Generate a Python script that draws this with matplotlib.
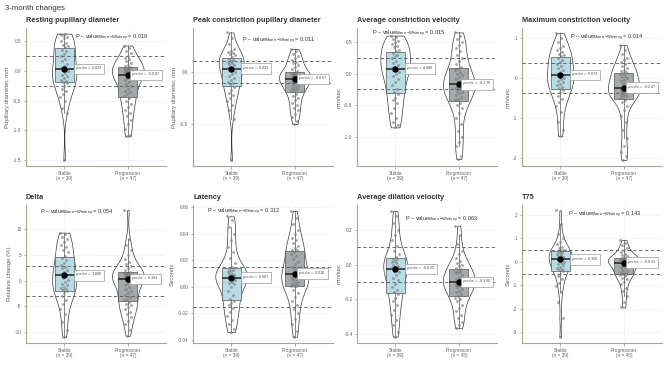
import numpy as np
import matplotlib
matplotlib.use("Agg")
import matplotlib.pyplot as plt

plt.rcParams['font.family'] = ['Liberation Sans', 'DejaVu Sans']
plt.rcParams['mathtext.fontset'] = 'custom'
plt.rcParams['mathtext.rm'] = 'Liberation Sans'
plt.rcParams['mathtext.it'] = 'Liberation Sans:italic'
plt.rcParams['mathtext.bf'] = 'Liberation Sans:bold'

# ---------------- data ----------------
suptitle = "3-month changes"
titles = ["Resting pupillary diameter", "Peak constriction pupillary diameter",
          "Average constriction velocity", "Maximum constriction velocity",
          "Delta", "Latency", "Average dilation velocity", "T75"]
ylabels = ["Pupillary diameter, mm", "Pupillary diameter, mm", "mm/sec", "mm/sec",
           "Relative change (%)", "Seconds", "mm/sec", "Seconds"]
groups = ["Stable", "Progression"]
p_values = ["0.018", "0.011", "0.015", "0.014", "0.054", "0.312", "0.063", "0.143"]
thresholds = [0.25, 0.11, 0.24, 0.38, 2.9, 0.015, 0.10, 0.5]

stable_resting = [0.63, 0.62, 0.60, 0.57, 0.55, 0.50, 0.47, 0.44, 0.42, 0.40,
                  0.36, 0.33, 0.28, 0.25, 0.20, 0.17, 0.12, 0.08, 0.05, 0.033,
                  0.02, 0.0, -0.03, -0.06, -0.09, -0.12, -0.15, -0.17, -0.18,
                  -0.20, -0.25, -0.30, -0.33, -0.38, -0.44, -0.50, -0.62, -0.70, -1.50]
prog_resting = [0.43, 0.38, 0.33, 0.30, 0.26, 0.22, 0.20, 0.17, 0.14, 0.11, 0.09, 0.07,
                0.05, 0.04, 0.03, 0.02, 0.01, 0.0, -0.01, -0.02, -0.03, -0.05, -0.06, -0.067,
                -0.09, -0.12, -0.15, -0.18, -0.22, -0.26, -0.30, -0.33, -0.36, -0.39, -0.42,
                -0.46, -0.50, -0.55, -0.60, -0.65, -0.70, -0.75, -0.82, -0.90, -0.98, -1.08, -1.10]

stable_peak = [0.38, 0.33, 0.27, 0.22, 0.20, 0.19, 0.18, 0.17, 0.16, 0.14,
               0.125, 0.12, 0.11, 0.10, 0.09, 0.08, 0.07, 0.05, 0.04, 0.033,
               0.02, 0.0, -0.02, -0.04, -0.06, -0.08, -0.10, -0.11, -0.12,
               -0.14, -0.17, -0.20, -0.22, -0.25, -0.28, -0.32, -0.37, -0.45, -0.85]
prog_peak = [0.22, 0.20, 0.17, 0.15, 0.13, 0.12, 0.10, 0.09, 0.07, 0.05, 0.03, 0.01,
             -0.005, -0.01, -0.015, -0.02, -0.025, -0.03, -0.04, -0.045, -0.05, -0.055, -0.06,
             -0.067, -0.08, -0.09, -0.10, -0.11, -0.12, -0.13, -0.14, -0.15, -0.16, -0.17, -0.18,
             -0.21, -0.23, -0.25, -0.27, -0.30, -0.32, -0.35, -0.37, -0.40, -0.43, -0.47, -0.50]

stable_acv = [0.60, 0.58, 0.55, 0.52, 0.50, 0.47, 0.44, 0.42, 0.38, 0.36,
              0.33, 0.30, 0.27, 0.24, 0.20, 0.17, 0.14, 0.11, 0.09, 0.08,
              0.06, 0.03, 0.0, -0.04, -0.08, -0.13, -0.18, -0.24, -0.29,
              -0.33, -0.38, -0.42, -0.47, -0.55, -0.62, -0.70, -0.76, -0.82, -0.85]
prog_acv = [0.65, 0.60, 0.55, 0.50, 0.45, 0.40, 0.35, 0.30, 0.25, 0.20, 0.15, 0.10,
            0.07, 0.05, 0.02, 0.0, -0.03, -0.06, -0.09, -0.11, -0.13, -0.15, -0.16,
            -0.17, -0.19, -0.21, -0.23, -0.25, -0.27, -0.29, -0.31, -0.34, -0.37, -0.40, -0.42,
            -0.46, -0.50, -0.55, -0.62, -0.70, -0.80, -0.90, -1.00, -1.08, -1.15, -1.30, -1.35]

stable_mcv = [1.12, 1.00, 0.90, 0.80, 0.75, 0.70, 0.65, 0.60, 0.57, 0.54,
              0.50, 0.45, 0.40, 0.35, 0.30, 0.25, 0.20, 0.15, 0.10, 0.073,
              0.03, 0.0, -0.03, -0.07, -0.10, -0.14, -0.18, -0.22, -0.26,
              -0.30, -0.36, -0.45, -0.52, -0.60, -0.70, -0.85, -1.10, -1.30, -1.45]
prog_mcv = [0.82, 0.70, 0.60, 0.50, 0.45, 0.40, 0.35, 0.30, 0.25, 0.20, 0.17, 0.15,
            0.12, 0.09, 0.06, 0.03, 0.0, -0.04, -0.08, -0.12, -0.16, -0.20, -0.23,
            -0.247, -0.27, -0.29, -0.31, -0.33, -0.35, -0.37, -0.39, -0.42, -0.45, -0.48, -0.50,
            -0.54, -0.60, -0.70, -0.80, -0.95, -1.10, -1.30, -1.50, -1.70, -1.85, -1.95, -2.05]

stable_delta = [9.3, 9.0, 8.5, 8.0, 7.5, 7.0, 6.5, 6.0, 5.5, 4.8,
                4.4, 4.0, 3.5, 3.0, 2.7, 2.4, 2.0, 1.6, 1.2, 1.0,
                0.6, 0.2, -0.2, -0.6, -0.9, -1.2, -1.5, -1.7, -1.9,
                -2.1, -2.5, -3.0, -3.8, -4.5, -5.5, -6.5, -8.0, -9.5, -10.9]
prog_delta = [13.7, 8.0, 7.0, 6.0, 5.0, 4.2, 3.6, 3.2, 2.8, 2.4, 2.0, 1.7,
              1.5, 1.4, 1.3, 1.2, 1.1, 1.0, 0.9, 0.8, 0.7, 0.55, 0.4,
              0.303, 0.0, -0.4, -0.8, -1.2, -1.6, -2.0, -2.4, -2.8, -3.2, -3.5, -3.8,
              -4.2, -4.5, -4.8, -5.2, -5.6, -6.0, -6.5, -7.0, -7.8, -8.5, -9.5, -10.7]

stable_latency = [0.053, 0.050, 0.045, 0.040, 0.035, 0.030, 0.026, 0.022, 0.018, 0.015,
                  0.013, 0.0125, 0.012, 0.011, 0.010, 0.0095, 0.009, 0.008, 0.0075, 0.007,
                  0.006, 0.005, 0.004, 0.003, 0.002, 0.0, -0.003, -0.006, -0.009,
                  -0.0105, -0.012, -0.014, -0.016, -0.019, -0.022, -0.025, -0.028, -0.032, -0.034]
prog_latency = [0.057, 0.052, 0.047, 0.043, 0.040, 0.037, 0.035, 0.033, 0.031, 0.029, 0.028, 0.0275,
                0.0265, 0.025, 0.023, 0.021, 0.019, 0.017, 0.015, 0.014, 0.013, 0.012, 0.011,
                0.010, 0.009, 0.008, 0.007, 0.006, 0.005, 0.004, 0.003, 0.002, 0.0015, 0.001, 0.0008,
                0.0004, -0.002, -0.005, -0.008, -0.011, -0.014, -0.017, -0.020, -0.024, -0.028, -0.033, -0.0375]

stable_adv = [0.31, 0.28, 0.24, 0.20, 0.17, 0.14, 0.11, 0.08, 0.06, 0.045,
              0.035, 0.03, 0.02, 0.015, 0.01, 0.0, -0.01, -0.015, -0.02, -0.025,
              -0.035, -0.045, -0.06, -0.075, -0.09, -0.11, -0.13, -0.145, -0.16,
              -0.17, -0.19, -0.21, -0.23, -0.26, -0.29, -0.32, -0.35, -0.39, -0.415]
prog_adv = [0.225, 0.17, 0.12, 0.08, 0.06, 0.04, 0.02, 0.01, 0.0, -0.01, -0.02,
            -0.027, -0.035, -0.04, -0.045, -0.05, -0.06, -0.07, -0.08, -0.085, -0.09, -0.095,
            -0.10, -0.105, -0.11, -0.115, -0.12, -0.125, -0.13, -0.14, -0.15, -0.16, -0.17,
            -0.18, -0.19, -0.20, -0.21, -0.23, -0.25, -0.27, -0.29, -0.31, -0.33, -0.35, -0.367]

stable_t75 = [2.2, 1.6, 1.2, 1.0, 0.85, 0.75, 0.65, 0.58, 0.52, 0.49,
              0.45, 0.42, 0.38, 0.34, 0.30, 0.26, 0.22, 0.17, 0.13, 0.10,
              0.05, 0.0, -0.05, -0.10, -0.15, -0.20, -0.25, -0.30, -0.35,
              -0.41, -0.50, -0.60, -0.75, -0.90, -1.05, -1.30, -1.70, -2.40, -3.20]
prog_t75 = [0.93, 0.80, 0.70, 0.60, 0.50, 0.40, 0.35, 0.30, 0.25, 0.20, 0.17,
            0.15, 0.14, 0.12, 0.10, 0.08, 0.06, 0.04, 0.02, 0.0, -0.01, -0.02,
            -0.033, -0.06, -0.10, -0.16, -0.22, -0.28, -0.33, -0.38, -0.42, -0.46, -0.50,
            -0.53, -0.56, -0.60, -0.67, -0.75, -0.85, -0.95, -1.10, -1.25, -1.45, -1.70, -1.95]

stable_data = [stable_resting, stable_peak, stable_acv, stable_mcv,
               stable_delta, stable_latency, stable_adv, stable_t75]
prog_data = [prog_resting, prog_peak, prog_acv, prog_mcv,
             prog_delta, prog_latency, prog_adv, prog_t75]

yticks = [[-1.5, -1.0, -0.5, 0.0, 0.5], [-0.5, 0.0], [-1.0, -0.5, 0.0, 0.5], [-2, -1, 0, 1],
          [-10, -5, 0, 5, 10], [-0.04, -0.02, 0.0, 0.02, 0.04, 0.06], [-0.4, -0.2, 0.0, 0.2],
          [-3, -2, -1, 0, 1, 2]]
ytick_decimals = [1, 1, 1, 0, 0, 2, 1, 0]
ylims = [(-1.60, 0.725), (-0.904, 0.423), (-1.46, 0.72), (-2.2, 1.25),
         (-12.1, 14.66), (-0.0422, 0.0615), (-0.452, 0.344), (-3.47, 2.43)]

# ---------------- layout / style ----------------
W, H = 669, 371
col_left = [26, 193, 357, 522]
row_top = [28, 205]
ax_w, ax_h = 140, 138
pval_pos = [(0.35, 0.93), (0.35, 0.91), (0.11, 0.96), (0.34, 0.93),
            (0.10, 0.94), (0.10, 0.95), (0.34, 0.89), (0.33, 0.93)]
box_colors = ['#b8dce6', '#a5a9ab']
label_dx = [0.17, 0.055]
axis_col = '#a9a58e'
txt_col = '#606060'

fig = plt.figure(figsize=(W / 100, H / 100), dpi=100)
fig.patch.set_facecolor('white')
fig.text(5 / W, 1 - 9 / H, suptitle, fontsize=5.6, color='#333333', va='center', ha='left')


def kde(v, grid):
    v = np.asarray(v, float)
    n = len(v)
    sd = v.std(ddof=1)
    iqr = np.subtract(*np.percentile(v, [75, 25]))
    bw = 0.9 * min(sd, iqr / 1.34) * n ** -0.2
    z = (grid[:, None] - v[None, :]) / bw
    return np.exp(-0.5 * z ** 2).sum(axis=1) / (n * bw * np.sqrt(2 * np.pi))


for k in range(8):
    r, c = divmod(k, 4)
    left = col_left[c] / W
    bottom = 1 - (row_top[r] + ax_h) / H
    ax = fig.add_axes([left, bottom, ax_w / W, ax_h / H])
    data = [np.asarray(stable_data[k], float), np.asarray(prog_data[k], float)]
    ns = [len(d) for d in data]

    ax.set_xlim(0.4, 2.6)
    ax.set_ylim(*ylims[k])

    # grid
    ax.set_axisbelow(True)
    ax.grid(True, color='#e2e2e2', lw=0.5, linestyle=(0, (2, 2)))

    # violins (area scaled)
    grids = [np.linspace(d.min(), d.max(), 256) for d in data]
    dens = [kde(d, g) for d, g in zip(data, grids)]
    dmax = max(dd.max() for dd in dens)
    for i in range(2):
        hw = dens[i] / dmax * 0.25
        ax.fill_betweenx(grids[i], i + 1 - hw, i + 1 + hw, facecolor='white',
                         edgecolor='#3a3a3a', lw=0.5, zorder=1)

    # boxes
    bp = ax.boxplot(data, positions=[1, 2], widths=0.3, patch_artist=True, showfliers=False,
                    showcaps=False, whis=1.5, manage_ticks=False, zorder=2,
                    medianprops=dict(color='#222222', lw=1.1),
                    boxprops=dict(edgecolor='#555555', lw=0.5),
                    whiskerprops=dict(color='#555555', lw=0.5))
    for patch, col in zip(bp['boxes'], box_colors):
        patch.set_facecolor(col)

    # threshold lines
    for t in (thresholds[k], -thresholds[k]):
        ax.axhline(t, color='#555555', lw=0.6, linestyle=(0, (4, 3)), zorder=3)

    # jittered points
    for i in range(2):
        idx = np.arange(ns[i])
        jit = ((idx * 0.6180339887) % 1.0 - 0.5) * 0.12
        ax.scatter(i + 1 + jit, data[i], s=2.5, facecolor='#8c8c8c', edgecolor='#555555',
                   linewidths=0.25, alpha=0.75, zorder=4)

    # medians + labels
    for i in range(2):
        med = np.median(data[i])
        ax.scatter([i + 1], [med], s=13, color='black', zorder=6)
        ax.text(i + 1 + label_dx[i], med,
                r"$\hat{\mu}_{\mathrm{median}}$" + f" = {med:.3f}",
                fontsize=2.9, color='#555555', ha='left', va='center', zorder=7,
                bbox=dict(boxstyle='square,pad=0.35', fc='white', ec='#9a9a9a', lw=0.5))

    # p-value text
    px, py = pval_pos[k]
    ax.text(px, py, r"P – value$_{\mathrm{Mann-Whitney}}$" + f" = {p_values[k]}",
            transform=ax.transAxes, fontsize=4.1, color='#333333', ha='left', va='center', zorder=7)

    # axes styling
    for s in ('top', 'right'):
        ax.spines[s].set_visible(False)
    for s in ('left', 'bottom'):
        ax.spines[s].set_color(axis_col)
        ax.spines[s].set_linewidth(0.8)
    ax.set_xticks([1, 2])
    ax.set_xticklabels([f"{g}\n(n = {n})" for g, n in zip(groups, ns)],
                       fontsize=3.4, color=txt_col, linespacing=1.0)
    ax.set_yticks(yticks[k])
    ax.set_yticklabels([f"{v:.{ytick_decimals[k]}f}" for v in yticks[k]],
                       fontsize=3.4, color=txt_col)
    ax.tick_params(axis='both', length=1.8, width=0.5, color='#888888', pad=1.5)
    ax.set_ylabel(ylabels[k], fontsize=4.3, color=txt_col, labelpad=2)
    ax.set_title(titles[k], loc='left', fontsize=5.3, fontweight='bold', color='#333333', pad=4)

fig.savefig("out.png", dpi=100, facecolor='white')
